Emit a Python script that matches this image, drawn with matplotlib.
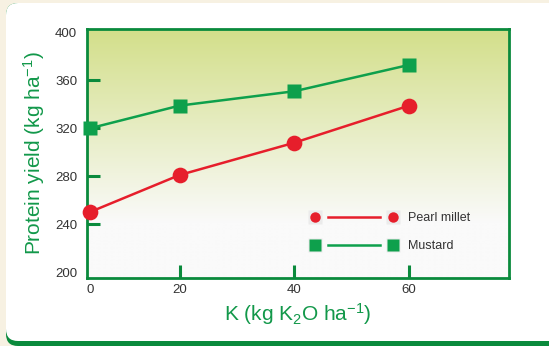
"""Protein yield vs K dose (pearl millet / mustard)."""

import matplotlib
matplotlib.use("Agg")
import matplotlib.pyplot as plt
import numpy as np
from matplotlib.lines import Line2D
from matplotlib.patches import FancyBboxPatch
from matplotlib.transforms import IdentityTransform

# ─── Donnees ───────────────────────────────────────────────────────────
k_dose = [0, 20, 40, 60]
pearl_millet = [250, 281, 308, 339]
mustard = [320, 339, 351, 373]
y_ticks = [200, 240, 280, 320, 360, 400]
x_ticks = [0, 20, 40, 60]

# ─── Couleurs ──────────────────────────────────────────────────────────
CREAM = "#f7f1e2"
FRAME_GREEN = "#0a8a3c"
LABEL_GREEN = "#12984a"
MUSTARD_GREEN = "#0ea04c"
RED = "#e61e2b"
TEXT_GREY = "#333333"

plt.rcParams.update({
    "font.family": ["Liberation Sans", "DejaVu Sans"],
    "mathtext.default": "regular",
})

# l'axe des x d'origine n'est pas lineaire : 0-20 est plus court que 20-40
FIRST_GAP = 90 / 115


def _fwd(x):
    x = np.asarray(x, dtype=float)
    return np.where(x >= 20, x, 20 - (20 - x) * FIRST_GAP)


def _inv(u):
    u = np.asarray(u, dtype=float)
    return np.where(u >= 20, u, 20 - (20 - u) / FIRST_GAP)


class GapHandler:
    """Poignee de legende : marqueur - trait - marqueur, avec un vide."""

    def __init__(self, marker, color, msize):
        self.marker = marker
        self.color = color
        self.msize = msize

    def legend_artist(self, legend, orig_handle, fontsize, handlebox):
        x0, y0 = -handlebox.xdescent, -handlebox.ydescent
        w, h = handlebox.width, handlebox.height
        yc = y0 + h / 2
        xa, xb = x0 + 5, x0 + w - 5
        halo = Line2D([xa, xb], [yc, yc], ls="none", marker="s",
                      ms=10.5, mfc="#ebebeb", mec="none")
        seg = Line2D([xa + 9.4, xb - 9.4], [yc, yc], color=self.color, lw=1.8)
        marks = Line2D([xa, xb], [yc, yc], ls="none", marker=self.marker,
                       ms=self.msize, mfc=self.color, mec="none")
        for art in (halo, seg, marks):
            handlebox.add_artist(art)
        return marks


fig = plt.figure(figsize=(5.49, 3.46), dpi=100)
fig.patch.set_facecolor(CREAM)

# cadre blanc arrondi avec bord vert en bas
fig.patches.append(FancyBboxPatch((6, 0), 560, 343, boxstyle="round,pad=0,rounding_size=12",
                                  transform=IdentityTransform(), fc=FRAME_GREEN, ec="none", zorder=-2))
fig.patches.append(FancyBboxPatch((6, 5), 560, 338, boxstyle="round,pad=0,rounding_size=12",
                                  transform=IdentityTransform(), fc="white", ec="none", zorder=-1))

ax = fig.add_axes([87 / 549, 68 / 346, 422 / 549, 249 / 346])
ax.set_xscale("function", functions=(_fwd, _inv))
ax.set_xlim(-0.6, 77.4)
ax.set_ylim(195, 403)

# degrade vert-jaune -> blanc
top = np.array([211, 223, 138]) / 255
bottom = np.array([250, 250, 250]) / 255
t = np.clip(np.linspace(0, 1, 256) / 0.78, 0, 1)[:, None]
grad = top * (1 - t) + bottom * t
ax.imshow(grad[:, None, :], extent=[0, 1, 0, 1], transform=ax.transAxes,
          aspect="auto", zorder=0, interpolation="bilinear")

ax.plot(k_dose, mustard, color=MUSTARD_GREEN, lw=1.8, marker="s", ms=9.6,
        mec="none", clip_on=False, zorder=3, label="Mustard")
ax.plot(k_dose, pearl_millet, color=RED, lw=1.8, marker="o", ms=11.3,
        mec="none", clip_on=False, zorder=3, label="Pearl millet")

for side in ax.spines.values():
    side.set_color(FRAME_GREEN)
    side.set_linewidth(2)

ax.set_xticks(x_ticks)
ax.set_xticklabels([str(v) for v in x_ticks])
ax.set_yticks(y_ticks)
ax.set_yticklabels([str(v) for v in y_ticks])
ax.xaxis.set_minor_locator(matplotlib.ticker.NullLocator())
ax.tick_params(direction="in", length=9.4, width=2.2, color=FRAME_GREEN,
               labelsize=9.5, labelcolor=TEXT_GREY)
ax.tick_params(axis="y", pad=7)
ax.tick_params(axis="x", pad=4)
# pas de trait de graduation dans les coins
ax.xaxis.get_major_ticks()[0].tick1line.set_visible(False)
ax.yaxis.get_major_ticks()[0].tick1line.set_visible(False)
ax.yaxis.get_major_ticks()[-1].tick1line.set_visible(False)

ax.set_xlabel("K (kg K$_2$O ha$^{-1}$)", color=LABEL_GREEN, fontsize=15, labelpad=4)
ax.set_ylabel("Protein yield (kg ha$^{-1}$)", color=LABEL_GREEN, fontsize=15, labelpad=6)

h_pm = Line2D([], [], color=RED)
h_mu = Line2D([], [], color=MUSTARD_GREEN)
ax.legend([h_pm, h_mu], ["Pearl millet", "Mustard"],
          handler_map={h_pm: GapHandler("o", RED, 7.5), h_mu: GapHandler("s", MUSTARD_GREEN, 8)},
          loc="upper left", bbox_to_anchor=(0.51, 0.29), frameon=False,
          fontsize=9, handlelength=7.3, handletextpad=0.64, labelspacing=1.3,
          borderpad=0, labelcolor=TEXT_GREY)

fig.savefig("out.png", dpi=100, facecolor=fig.get_facecolor())
